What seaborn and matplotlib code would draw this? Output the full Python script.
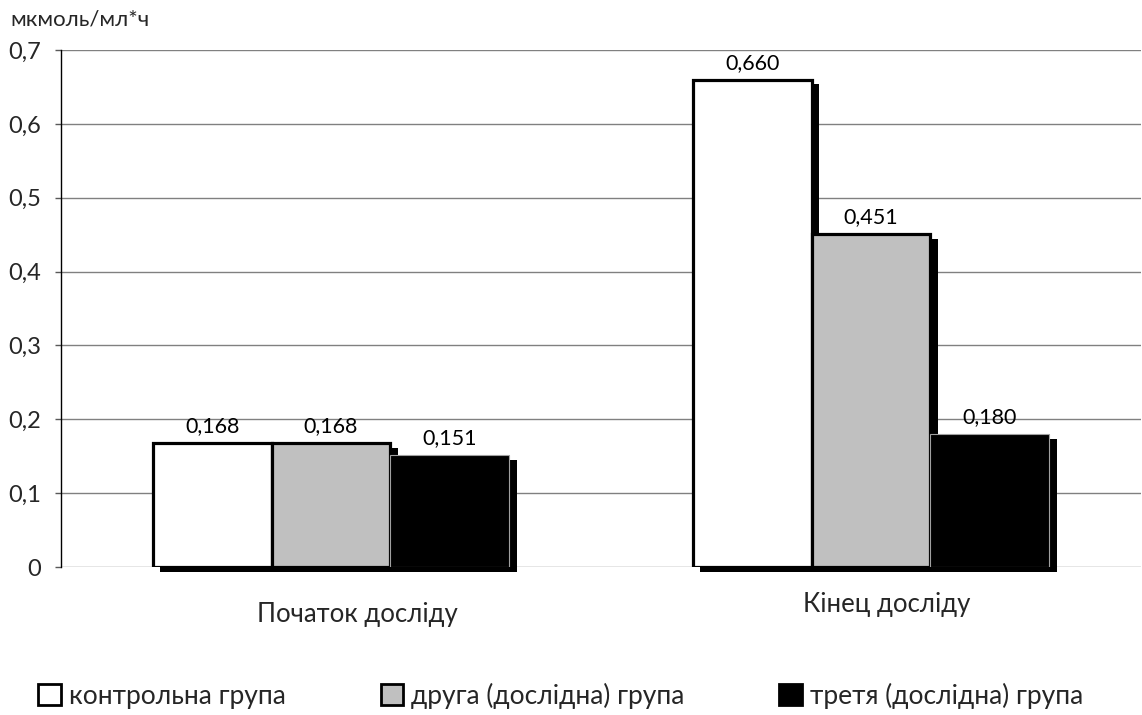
import matplotlib
matplotlib.use("Agg")
import matplotlib.pyplot as plt
import matplotlib.transforms as mtransforms
from matplotlib.patches import Rectangle, Patch
import numpy as np
import pandas as pd
import seaborn as sns

# Data
stages = ["Початок досліду", "Кінец досліду"]
groups = ["контрольна група", "друга (дослідна) група", "третя (дослідна) група"]
control_vals = [0.168, 0.660]
second_vals = [0.168, 0.451]
third_vals = [0.151, 0.180]
y_ticks = [0.0, 0.1, 0.2, 0.3, 0.4, 0.5, 0.6, 0.7]
y_unit = "мкмоль/мл*ч"

colors = ["#FFFFFF", "#C0C0C0", "#000000"]

df = pd.DataFrame({
    "stage": stages * 3,
    "group": [groups[0]] * 2 + [groups[1]] * 2 + [groups[2]] * 2,
    "value": control_vals + second_vals + third_vals,
})

sns.set_theme(style="white")
FONT = ["Lato", "DejaVu Sans"]
plt.rcParams["font.family"] = FONT

fig = plt.figure(figsize=(11.42, 7.15), dpi=100)
ax = fig.add_axes([61 / 1142, 1 - 567 / 715, 1080 / 1142, (567 - 50) / 715])

sns.barplot(data=df, x="stage", y="value", hue="group", hue_order=groups,
            order=stages, palette=colors, width=0.66, gap=0,
            edgecolor="black", linewidth=2.3, saturation=1,
            legend=False, ax=ax, zorder=3)

# Drop shadows offset down-right of each bar
shadow_off = mtransforms.ScaledTranslation(5.5 / 72, -3.5 / 72, fig.dpi_scale_trans)
bars = list(ax.patches)
for p in bars:
    sh = Rectangle((p.get_x(), p.get_y()), p.get_width(), p.get_height(),
                   facecolor="black", edgecolor="none",
                   transform=ax.transData + shadow_off, zorder=2,
                   clip_on=False)
    ax.add_patch(sh)

# Black bars get a thin light outline
for cont in ax.containers[2:]:
    for p in cont:
        p.set_edgecolor("#A0A0A0")
        p.set_linewidth(0.8)

# Value labels
for cont in ax.containers:
    vals = [b.get_height() for b in cont]
    ax.bar_label(cont, labels=[f"{v:.3f}".replace(".", ",") for v in vals],
                 padding=5, fontsize=15.5, color="black", family=FONT)

ax.set_ylim(0, 0.7)
ax.set_yticks(y_ticks)
ax.set_yticklabels(["0" if t == 0 else f"{t:.1f}".replace(".", ",") for t in y_ticks],
                   fontsize=17)
ax.tick_params(axis="y", left=True, length=4.5, width=1, color="#595959", pad=10)
ax.yaxis.grid(True, color="#808080", linewidth=1.0, zorder=0)
ax.set_axisbelow(True)
ax.set_xlabel("")
ax.set_ylabel("")
ax.set_xticks(range(len(stages)))
ax.set_xticklabels([])
ax.tick_params(axis="x", bottom=False)
for s in ["top", "right", "bottom"]:
    ax.spines[s].set_visible(False)
ax.spines["left"].set_color("black")
ax.spines["left"].set_linewidth(1.0)

# Category labels under the groups
cat_offsets = [(19, -34), (11, -27)]
for i, (name, (dx, dy)) in enumerate(zip(stages, cat_offsets)):
    ax.annotate(name, xy=(i, 0), xycoords=("data", "data"),
                xytext=(dx, dy), textcoords="offset points",
                ha="center", va="center", fontsize=18.5, family=FONT)

fig.text(10 / 1142, 1 - 20 / 715, y_unit, ha="left", va="center",
         fontsize=16, family=FONT)

handles = [Patch(facecolor=c, edgecolor="black", linewidth=2.0) for c in colors]
fig.legend(handles, groups, loc="center", bbox_to_anchor=(0.491, 1 - 696 / 715),
           ncol=3, frameon=False, handlelength=0.85,
           handleheight=0.85, handletextpad=0.3, columnspacing=3.6,
           prop={"family": FONT, "size": 19})

fig.savefig("out.png", dpi=100)
